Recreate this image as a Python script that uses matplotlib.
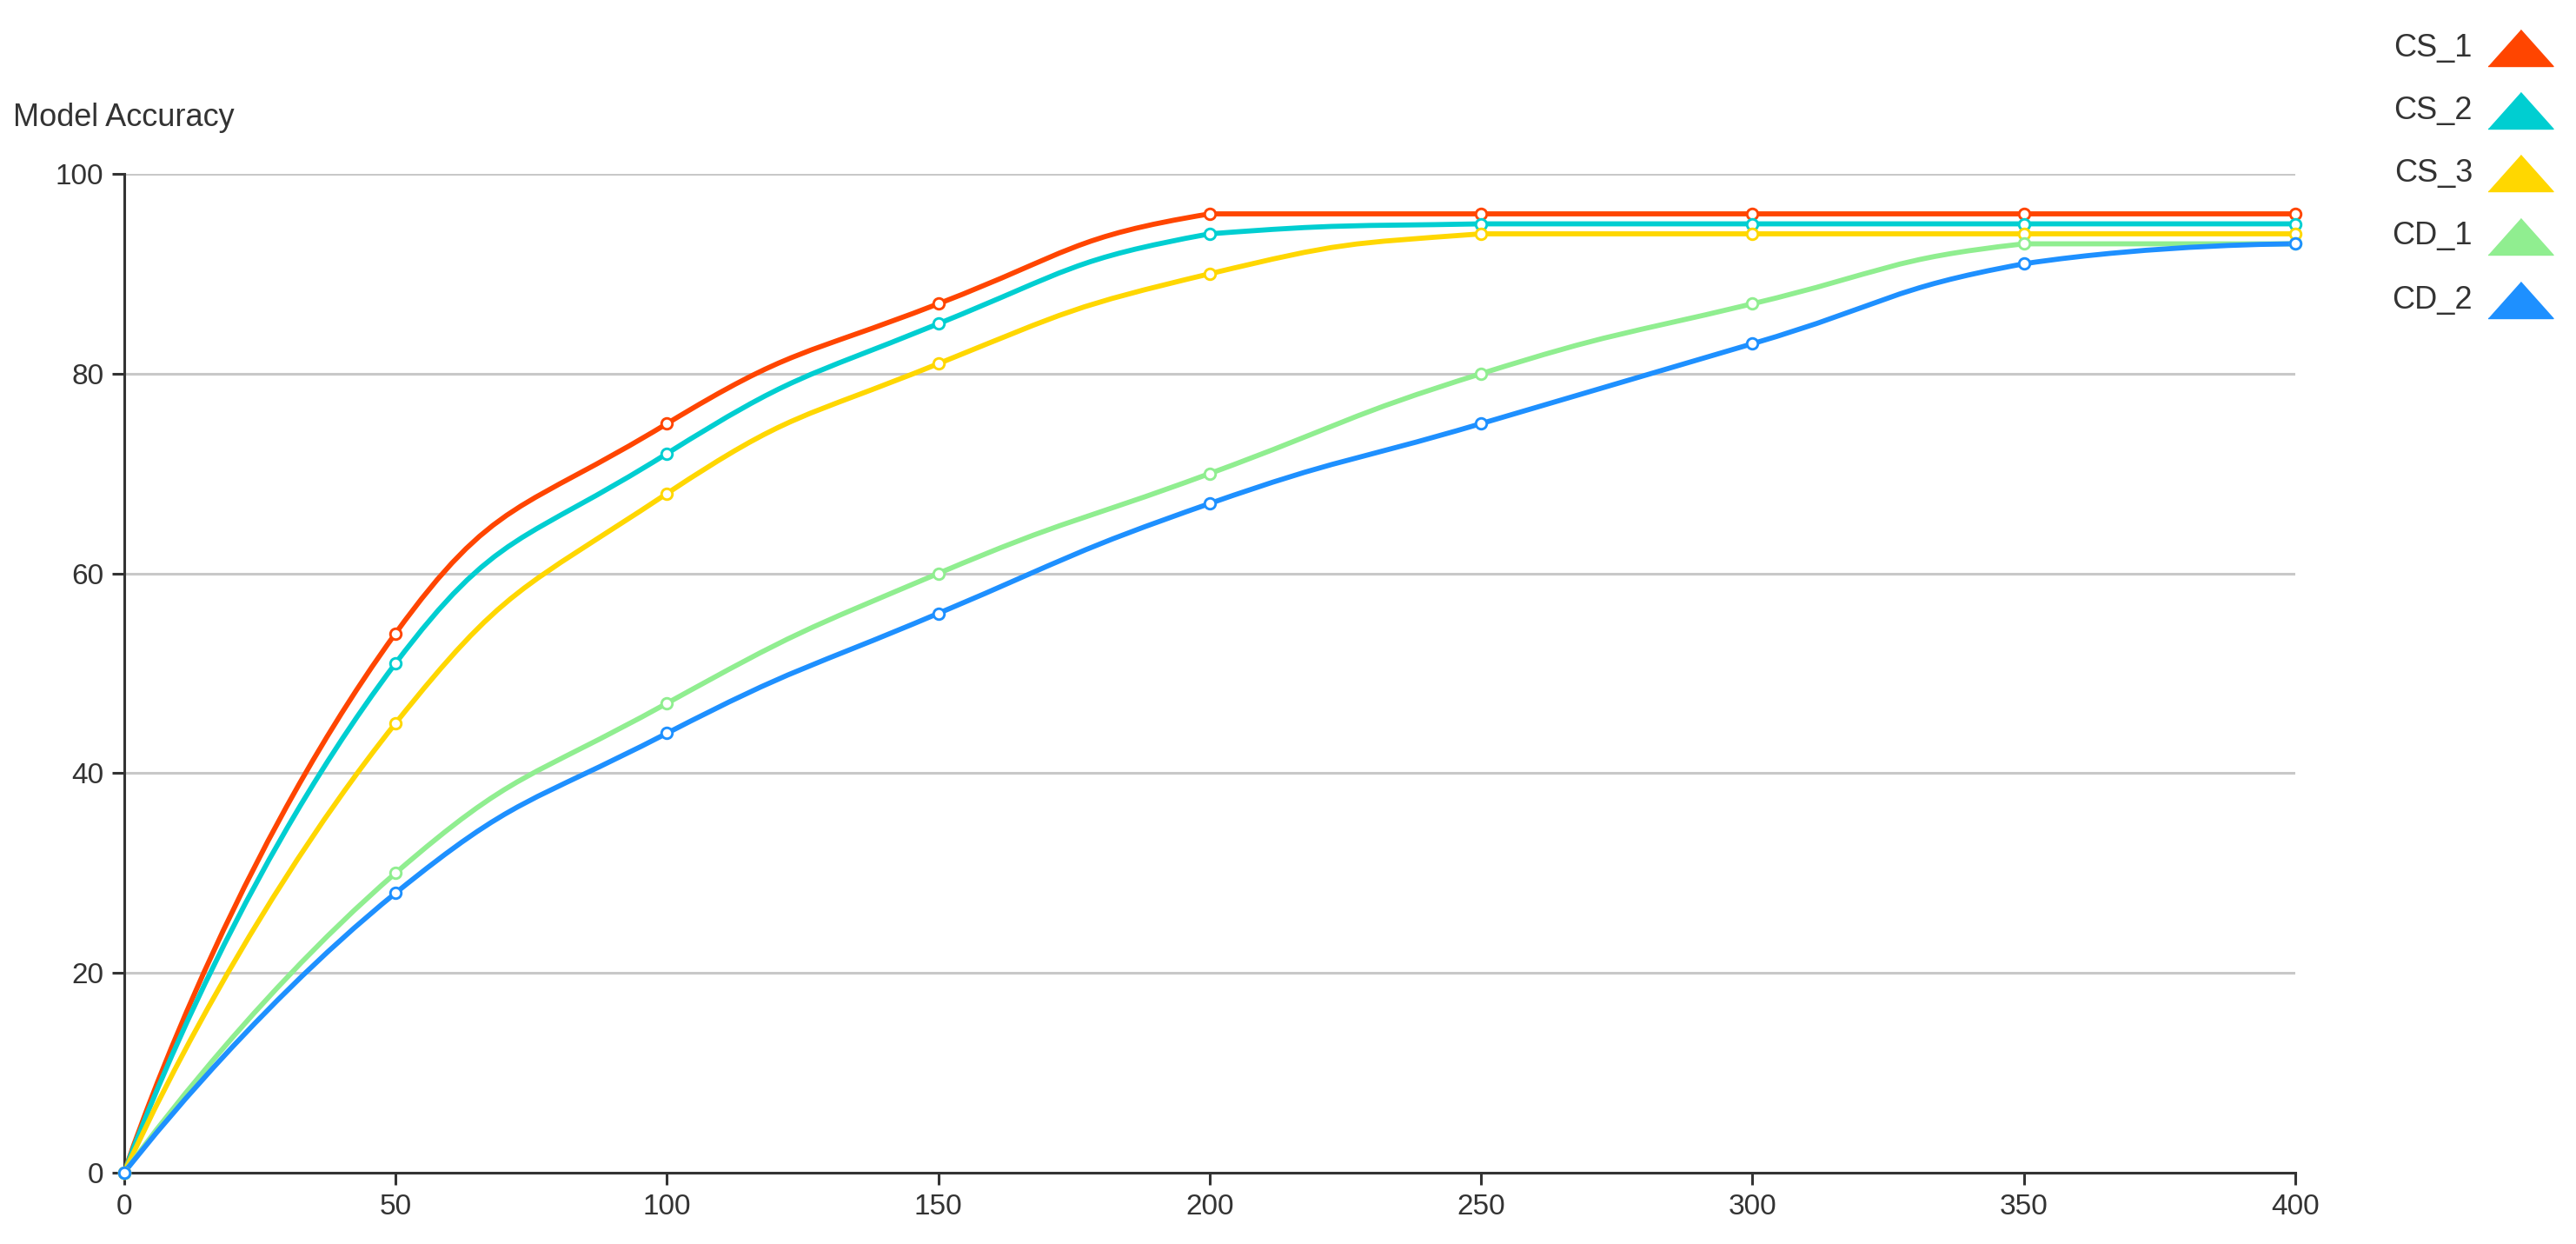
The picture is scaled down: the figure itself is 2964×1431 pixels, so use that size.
import numpy as np
import matplotlib
matplotlib.use('Agg')
import matplotlib.pyplot as plt
from matplotlib.path import Path
from matplotlib.patches import PathPatch

plt.rcParams['font.family'] = ['Liberation Sans', 'DejaVu Sans']

# Datos
muestras = [0, 50, 100, 150, 200, 250, 300, 350, 400]
cs_1 = [0, 54, 75, 87, 96, 96, 96, 96, 96]
cs_2 = [0, 51, 72, 85, 94, 95, 95, 95, 95]
cs_3 = [0, 45, 68, 81, 90, 94, 94, 94, 94]
cd_1 = [0, 30, 47, 60, 70, 80, 87, 93, 93]
cd_2 = [0, 28, 44, 56, 67, 75, 83, 91, 93]

nombres = ['CS_1', 'CS_2', 'CS_3', 'CD_1', 'CD_2']
series = [cs_1, cs_2, cs_3, cd_1, cd_2]
colores = ['#FF4500', '#00CED1', '#FFD700', '#90EE90', '#1E90FF']


def camino_suave(pts, smooth=0.5):
    # curva bezier suave calculada en pixeles, solo para dibujar la linea
    lo = pts.min(axis=0)
    hi = pts.max(axis=0)
    verts = [tuple(pts[0])]
    codes = [Path.MOVETO]
    cp0 = pts[0].copy()
    n = len(pts)
    for i in range(1, n):
        p = pts[i]
        prev = pts[i - 1]
        r = 0.5
        if i == n - 1:
            cp1 = p.copy()
            v = np.zeros(2)
        else:
            sig = pts[i + 1]
            v = sig - prev
            l0 = np.hypot(*(p - prev))
            l1 = np.hypot(*(p - sig))
            r = l1 / (l0 + l1)
            cp1 = p - v * smooth * (1 - r)
        cp0 = np.clip(cp0, lo, hi)
        cp1 = np.clip(cp1, lo, hi)
        verts += [tuple(cp0), tuple(cp1), tuple(p)]
        codes += [Path.CURVE4] * 3
        cp0 = p + v * smooth * r
    return np.array(verts), codes


fig = plt.figure(figsize=(29.64, 14.31), dpi=100)
ax = fig.add_axes([0.0482, 0.0573, 0.8428, 0.8029])
ax.set_xlim(0, 400)
ax.set_ylim(0, 100)

for nombre, valores, color in zip(nombres, series, colores):
    pix = ax.transData.transform(np.column_stack([muestras, valores]))
    verts, codes = camino_suave(pix)
    datos = ax.transData.inverted().transform(verts)
    ax.add_patch(PathPatch(Path(datos, codes), facecolor='none', edgecolor=color,
                           linewidth=4.2, zorder=3, capstyle='round'))
    ax.plot(muestras, valores, linestyle='none', marker='o', markersize=9,
            markerfacecolor='white', markeredgecolor=color, markeredgewidth=2.1,
            zorder=4, clip_on=False)

ax.set_xticks(range(0, 401, 50))
ax.set_yticks(range(0, 101, 20))
ax.yaxis.grid(True, color='#c8c8c8', linewidth=2.2)
ax.set_axisbelow(True)
for lado in ['top', 'right']:
    ax.spines[lado].set_visible(False)
for lado in ['left', 'bottom']:
    ax.spines[lado].set_color('#333333')
    ax.spines[lado].set_linewidth(2.2)
ax.tick_params(axis='both', length=10, width=2.2, color='#333333',
               labelsize=24, labelcolor='#333333', pad=7)

fig.text(0.005, 0.905, 'Model Accuracy', fontsize=26, color='#333333',
         ha='left', va='center')

# Leyenda a mano arriba a la derecha
triangulo = [(-1, -0.56), (1, -0.56), (0, 0.56)]
filas_y = [55, 127, 199, 272, 345]
for nombre, color, fy in zip(nombres, colores, filas_y):
    yf = 1 - fy / 1431
    fig.text(2845 / 2964, yf, nombre, fontsize=26, color='#333333',
             ha='right', va='center')
    fig.lines.append(plt.Line2D([2900 / 2964], [yf], transform=fig.transFigure,
                                marker=triangulo, markersize=54, color=color,
                                linestyle='none'))

fig.savefig('out.png', dpi=100, facecolor='white')
